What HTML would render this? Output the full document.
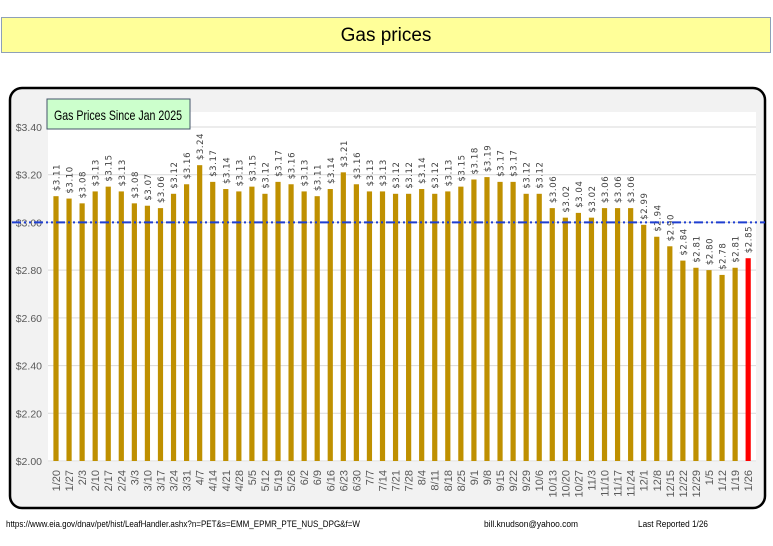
<!DOCTYPE html>
<html><head><meta charset="utf-8"><style>
body{margin:0;width:773px;height:541px;background:#fff;overflow:hidden;font-family:"Liberation Sans",sans-serif}
</style></head><body>
<svg id="s" width="773" height="541" xmlns="http://www.w3.org/2000/svg">
<rect x="1.5" y="17.5" width="769" height="35" fill="#ffff99" stroke="#8ea0b8" stroke-width="1"/>
<text x="386" y="41" font-size="19" text-anchor="middle" font-family="Liberation Sans,sans-serif">Gas prices</text>
<rect x="10" y="88" width="755" height="420" rx="12" fill="#f2f2f2" stroke="#000" stroke-width="2.5"/>
<rect x="48" y="112" width="708" height="350" fill="#fff"/>
<g id="g"></g>
<rect x="47" y="99" width="143" height="30" fill="#ccffcc" stroke="#44546a" stroke-width="1"/>
<text x="54" y="120" font-size="14" fill="#000" textLength="128" lengthAdjust="spacingAndGlyphs">Gas Prices Since Jan 2025</text>
<text x="6" y="527" font-size="9" fill="#000" textLength="354" lengthAdjust="spacingAndGlyphs">https://www.eia.gov/dnav/pet/hist/LeafHandler.ashx?n=PET&amp;s=EMM_EPMR_PTE_NUS_DPG&amp;f=W</text>
<text x="484" y="527" font-size="9" fill="#000" textLength="94" lengthAdjust="spacingAndGlyphs">bill.knudson@yahoo.com</text>
<text x="638" y="527" font-size="9" fill="#000" textLength="70" lengthAdjust="spacingAndGlyphs">Last Reported 1/26</text>
</svg>
<script>
var v=[3.11,3.10,3.08,3.13,3.15,3.13,3.08,3.07,3.06,3.12,3.16,3.24,3.17,3.14,3.13,3.15,3.12,3.17,3.16,3.13,3.11,3.14,3.21,3.16,3.13,3.13,3.12,3.12,3.14,3.12,3.13,3.15,3.18,3.19,3.17,3.17,3.12,3.12,3.06,3.02,3.04,3.02,3.06,3.06,3.06,2.99,2.94,2.90,2.84,2.81,2.80,2.78,2.81,2.85];
var d=["1/20","1/27","2/3","2/10","2/17","2/24","3/3","3/10","3/17","3/24","3/31","4/7","4/14","4/21","4/28","5/5","5/12","5/19","5/26","6/2","6/9","6/16","6/23","6/30","7/7","7/14","7/21","7/28","8/4","8/11","8/18","8/25","9/1","9/8","9/15","9/22","9/29","10/6","10/13","10/20","10/27","11/3","11/10","11/17","11/24","12/1","12/8","12/15","12/22","12/29","1/5","1/12","1/19","1/26"];
function Y(p){return 461-(p-2)*334/1.4;}
var h='';
for(var k=0;k<=7;k++){var p=2+k*0.2,y=Y(p);
 h+='<line x1="48" x2="756" y1="'+y+'" y2="'+y+'" stroke="#d9d9d9" stroke-width="1"/>';
 h+='<text x="42" y="'+(y+4)+'" font-size="10.5" fill="#595959" text-anchor="end">$'+p.toFixed(2)+'</text>';}
for(var i=0;i<54;i++){var x=56+i*13.06,y=Y(v[i]);
 h+='<rect x="'+(x-2.6)+'" y="'+y+'" width="5.2" height="'+(461-y)+'" fill="'+(i==53?'#ff0000':'#bf9000')+'"/>';
 h+='<text transform="translate('+(x+3.5)+','+(y-5)+') rotate(-90)" font-size="8.5" fill="#404040" font-family="DejaVu Sans,sans-serif" letter-spacing="0.6">$'+v[i].toFixed(2)+'</text>';
 h+='<text transform="translate('+(x+4)+',470) rotate(-90)" font-size="11" fill="#595959" text-anchor="end">'+d[i]+'</text>';}
h+='<line x1="12" x2="765" y1="'+Y(3)+'" y2="'+Y(3)+'" stroke="#1f3fd0" stroke-width="2" stroke-dasharray="9,3,2,3,2,3"/>';
document.getElementById('g').innerHTML=h;
</script>
</body></html>
